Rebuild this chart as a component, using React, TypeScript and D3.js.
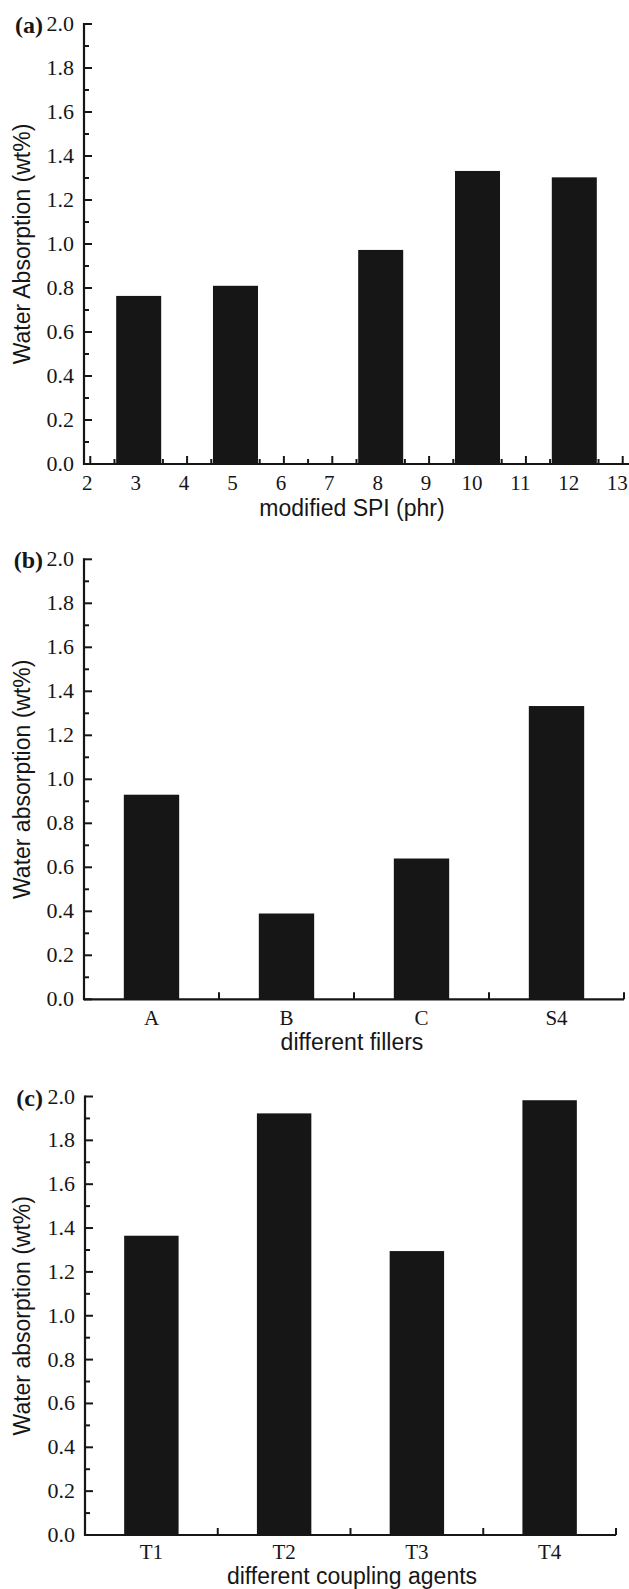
import React, {useRef, useEffect} from "react"
import {select, scaleLinear, scaleBand} from "d3"

const W = 629
const H = 1589

// (a) water absorption vs. modified SPI loading
const spiLevels = [3, 5, 8, 10, 12]
const spiAbsorption = [0.764, 0.81, 0.973, 1.332, 1.303]
const spiTicks = [2, 3, 4, 5, 6, 7, 8, 9, 10, 11, 12, 13]

// (b) different fillers
const fillers = ["A", "B", "C", "S4"]
const fillerAbsorption = [0.93, 0.39, 0.64, 1.333]

// (c) different coupling agents
const agents = ["T1", "T2", "T3", "T4"]
const agentAbsorption = [1.365, 1.923, 1.295, 1.983]

const yTicks = [0, 0.2, 0.4, 0.6, 0.8, 1.0, 1.2, 1.4, 1.6, 1.8, 2.0]

const INK = "#161616"
const SERIF = "'Liberation Serif', 'Times New Roman', serif"
const SANS = "'Liberation Sans', Arial, sans-serif"

function drawYAxis(g, y, x0, title, letter) {
  g.append("line")
    .attr("x1", x0).attr("x2", x0)
    .attr("y1", y(0) + 1).attr("y2", y(2) - 1)
    .attr("stroke", INK).attr("stroke-width", 2.2)

  g.selectAll(".ymajor")
    .data(yTicks)
    .join("line")
    .attr("x1", x0).attr("x2", x0 + 8)
    .attr("y1", d => y(d)).attr("y2", d => y(d))
    .attr("stroke", INK).attr("stroke-width", 2)

  // minor ticks halfway between labelled ones
  const minor = yTicks.slice(1).map((t, i) => (t + yTicks[i]) / 2)
  g.selectAll(".yminor")
    .data(minor)
    .join("line")
    .attr("x1", x0).attr("x2", x0 + 5)
    .attr("y1", d => y(d)).attr("y2", d => y(d))
    .attr("stroke", INK).attr("stroke-width", 2)

  g.selectAll(".ylabel")
    .data(yTicks)
    .join("text")
    .attr("x", x0 - 10)
    .attr("y", d => y(d) + 7)
    .attr("text-anchor", "end")
    .style("font-family", SERIF)
    .style("font-size", "22px")
    .attr("fill", INK)
    .text(d => d.toFixed(1))

  const mid = (y(0) + y(2)) / 2
  g.append("text")
    .attr("transform", `translate(30,${mid}) rotate(-90)`)
    .attr("text-anchor", "middle")
    .style("font-family", SANS)
    .style("font-size", "23px")
    .attr("fill", INK)
    .text(title)

  g.append("text")
    .attr("x", 43)
    .attr("y", y(2) + 9)
    .attr("text-anchor", "end")
    .style("font-family", SERIF)
    .style("font-size", "24px")
    .style("font-weight", "bold")
    .attr("fill", INK)
    .text(letter)
}

function xTitle(g, x, baseY, text) {
  g.append("text")
    .attr("x", x)
    .attr("y", baseY)
    .attr("text-anchor", "middle")
    .style("font-family", SANS)
    .style("font-size", "23px")
    .attr("fill", INK)
    .text(text)
}

function drawSpiPanel(g) {
  const y = scaleLinear().domain([0, 2]).range([464, 24])
  const x = scaleLinear().domain([1.86, 13.13]).range([83.5, 629])
  const half = 0.465

  g.selectAll(".bar")
    .data(spiLevels)
    .join("rect")
    .attr("x", d => x(d - half))
    .attr("width", d => x(d + half) - x(d - half))
    .attr("y", (d, i) => y(spiAbsorption[i]))
    .attr("height", (d, i) => y(0) - y(spiAbsorption[i]))
    .attr("fill", INK)

  g.append("line")
    .attr("x1", x.range()[0]).attr("x2", x.range()[1])
    .attr("y1", y(0)).attr("y2", y(0))
    .attr("stroke", INK).attr("stroke-width", 2.2)

  g.selectAll(".xmajor")
    .data(spiTicks)
    .join("line")
    .attr("x1", d => x(d)).attr("x2", d => x(d))
    .attr("y1", y(0)).attr("y2", y(0) - 8)
    .attr("stroke", INK).attr("stroke-width", 2)

  g.selectAll(".xminor")
    .data(spiTicks.slice(0, -1).map(t => t + 0.5))
    .join("line")
    .attr("x1", d => x(d)).attr("x2", d => x(d))
    .attr("y1", y(0)).attr("y2", y(0) - 5)
    .attr("stroke", INK).attr("stroke-width", 2)

  // labels sit a little left of their ticks in the original
  g.selectAll(".xlabel")
    .data(spiTicks)
    .join("text")
    .attr("x", d => x(d) - (d >= 10 ? 5.5 : 3))
    .attr("y", y(0) + 26)
    .attr("text-anchor", "middle")
    .style("font-family", SERIF)
    .style("font-size", "21px")
    .attr("fill", INK)
    .text(d => d)

  drawYAxis(g, y, 84, "Water Absorption (wt%)", "(a)")
  xTitle(g, 352, y(0) + 52, "modified SPI (phr)")
}

function drawCategoryPanel(g, cats, values, y, xRange, title, letter, labelGap, titleGap) {
  const x = scaleBand().domain(cats).range(xRange)
    .paddingInner(0.59).paddingOuter(0.295)

  g.selectAll(".bar")
    .data(cats)
    .join("rect")
    .attr("x", d => x(d))
    .attr("width", x.bandwidth())
    .attr("y", (d, i) => y(values[i]))
    .attr("height", (d, i) => y(0) - y(values[i]))
    .attr("fill", INK)

  g.append("line")
    .attr("x1", xRange[0]).attr("x2", xRange[1])
    .attr("y1", y(0)).attr("y2", y(0))
    .attr("stroke", INK).attr("stroke-width", 2.2)

  // ticks sit on the band boundaries
  g.selectAll(".xmajor")
    .data(cats)
    .join("line")
    .attr("x1", (d, i) => xRange[0] + (i + 1) * x.step())
    .attr("x2", (d, i) => xRange[0] + (i + 1) * x.step())
    .attr("y1", y(0)).attr("y2", y(0) - 7)
    .attr("stroke", INK).attr("stroke-width", 2)

  g.selectAll(".xlabel")
    .data(cats)
    .join("text")
    .attr("x", d => x(d) + x.bandwidth() / 2)
    .attr("y", y(0) + labelGap)
    .attr("text-anchor", "middle")
    .style("font-family", SERIF)
    .style("font-size", "21px")
    .attr("fill", INK)
    .text(d => d)

  drawYAxis(g, y, xRange[0], "Water absorption (wt%)", letter)
  xTitle(g, 352, y(0) + titleGap, title)
}

function App() {
  const svgRef = useRef(null)

  useEffect(() => {
    const svg = select(svgRef.current)
    svg.selectAll("*").remove()

    drawSpiPanel(svg.append("g"))

    drawCategoryPanel(svg.append("g"), fillers, fillerAbsorption,
      scaleLinear().domain([0, 2]).range([999.3, 559.3]),
      [84, 624], "different fillers", "(b)", 26, 51)

    drawCategoryPanel(svg.append("g"), agents, agentAbsorption,
      scaleLinear().domain([0, 2]).range([1535, 1096.5]),
      [85, 616], "different coupling agents", "(c)", 24, 49)
  }, [])

  return (
    <div style={{position: "absolute", left: 0, top: 0, background: "#fff"}}>
      <svg ref={svgRef} width={W} height={H} style={{display: "block"}}/>
    </div>
  )
}

export default App
